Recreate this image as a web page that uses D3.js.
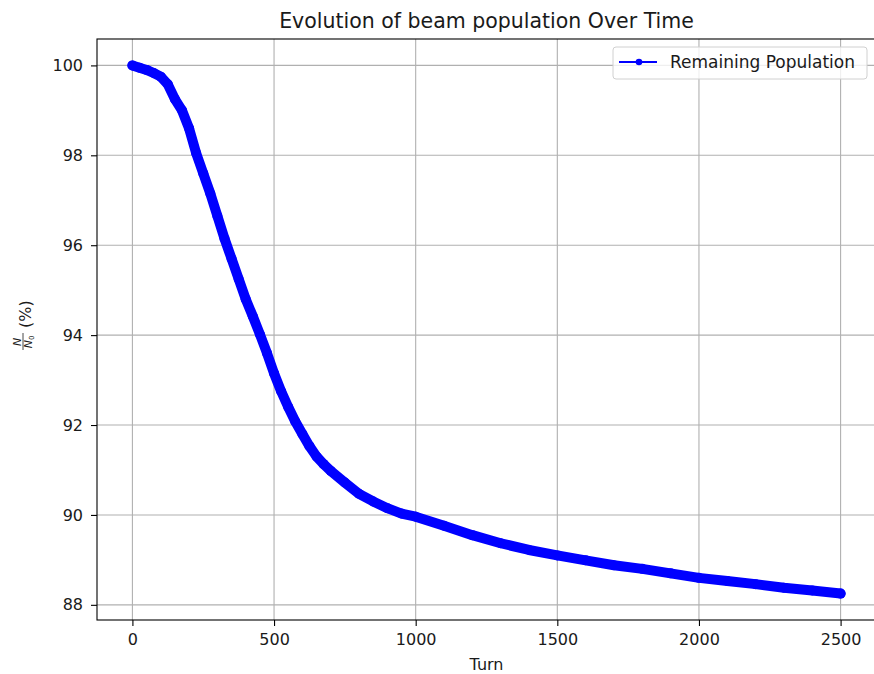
<!DOCTYPE html>
<html>
<head>
<meta charset="utf-8">
<script src="https://cdn.jsdelivr.net/npm/d3@7"></script>
<style>
  body { margin: 0; background: #fff; }
  svg { display: block; font-family: "DejaVu Sans", sans-serif; }
</style>
</head>
<body>
<script>
var width = 874;
var height = 674;

// 周回数と残存率(%)
var turns = [0, 25, 50, 75, 100, 125, 150, 175, 200, 225, 250, 275, 300, 325, 350, 375, 400,
  425, 450, 475, 500, 525, 550, 575, 600, 625, 650, 675, 700, 750, 800, 850, 900, 950, 1000,
  1100, 1200, 1300, 1400, 1500, 1600, 1700, 1800, 1900, 2000, 2100, 2200, 2300, 2400, 2500];
var population = [100, 99.95, 99.9, 99.83, 99.75, 99.58, 99.25, 99.0, 98.6, 98.05, 97.6, 97.15, 96.65, 96.15, 95.7, 95.25, 94.8,
  94.42, 94.02, 93.6, 93.15, 92.75, 92.4, 92.08, 91.8, 91.53, 91.3, 91.13, 90.98, 90.72, 90.47, 90.3, 90.15, 90.03, 89.96,
  89.76, 89.55, 89.37, 89.22, 89.1, 88.99, 88.88, 88.8, 88.7, 88.6, 88.53, 88.46, 88.38, 88.32, 88.25];
var xTicks = [0, 500, 1000, 1500, 2000, 2500];
var yTicks = [88, 90, 92, 94, 96, 98, 100];

var data = turns.map(function (t, i) { return { t: t, v: population[i] }; });

// 描画領域
var plot = { left: 97, right: 876, top: 39, bottom: 620 };

var svg = d3.select("body").append("svg")
  .attr("width", width)
  .attr("height", height);

// 5%マージン付きのスケール
var xExt = d3.extent(turns), yExt = d3.extent(population);
var xPad = (xExt[1] - xExt[0]) * 0.05, yPad = (yExt[1] - yExt[0]) * 0.05;
var x = d3.scaleLinear().domain([xExt[0] - xPad, xExt[1] + xPad]).range([plot.left, plot.right]);
var y = d3.scaleLinear().domain([yExt[0] - yPad, yExt[1] + yPad]).range([plot.bottom, plot.top]);

// グリッド
var grid = svg.append("g");
grid.selectAll(".gx").data(xTicks).enter().append("line")
  .attr("x1", function (d) { return x(d); }).attr("x2", function (d) { return x(d); })
  .attr("y1", plot.top).attr("y2", plot.bottom)
  .attr("stroke", "#b0b0b0").attr("stroke-width", 1.1);
grid.selectAll(".gy").data(yTicks).enter().append("line")
  .attr("y1", function (d) { return y(d); }).attr("y2", function (d) { return y(d); })
  .attr("x1", plot.left).attr("x2", plot.right)
  .attr("stroke", "#b0b0b0").attr("stroke-width", 1.1);

// 曲線（マーカーが重なった太い帯）
var line = d3.line().x(function (d) { return x(d.t); }).y(function (d) { return y(d.v); });
svg.append("path").datum(data)
  .attr("d", line)
  .attr("fill", "none")
  .attr("stroke", "#0000ff")
  .attr("stroke-width", 10)
  .attr("stroke-linejoin", "round")
  .attr("stroke-linecap", "round");
svg.selectAll(".dot").data(data).enter().append("circle")
  .attr("cx", function (d) { return x(d.t); })
  .attr("cy", function (d) { return y(d.v); })
  .attr("r", 5)
  .attr("fill", "#0000ff");

// 軸
var xAxis = svg.append("g").attr("transform", "translate(0," + plot.bottom + ")")
  .call(d3.axisBottom(x).tickValues(xTicks).tickSize(6).tickPadding(8).tickFormat(d3.format("d")));
var yAxis = svg.append("g").attr("transform", "translate(" + plot.left + ",0)")
  .call(d3.axisLeft(y).tickValues(yTicks).tickSize(6).tickPadding(8).tickFormat(d3.format("d")));
[xAxis, yAxis].forEach(function (a) {
  a.select(".domain").remove();
  a.selectAll(".tick line").attr("stroke", "#000").attr("stroke-width", 1.1);
  a.selectAll(".tick text").attr("font-size", 16).attr("fill", "#1a1a1a")
    .attr("font-family", "DejaVu Sans");
});

// 枠線
svg.append("rect")
  .attr("x", plot.left).attr("y", plot.top)
  .attr("width", plot.right - plot.left).attr("height", plot.bottom - plot.top)
  .attr("fill", "none").attr("stroke", "#000").attr("stroke-width", 1.1);

// タイトルと軸ラベル
var cx = (plot.left + plot.right) / 2;
svg.append("text").attr("x", cx).attr("y", 28)
  .attr("text-anchor", "middle").attr("font-size", 20.5).attr("fill", "#1a1a1a")
  .text("Evolution of beam population Over Time");
svg.append("text").attr("x", cx).attr("y", 670)
  .attr("text-anchor", "middle").attr("font-size", 16).attr("fill", "#1a1a1a")
  .text("Turn");

// 縦軸ラベル N/N0 (%)
var yl = svg.append("g").attr("transform", "translate(23,330) rotate(-90)")
  .attr("fill", "#1a1a1a");
yl.append("text").attr("x", -12).attr("y", -2).attr("text-anchor", "middle")
  .attr("font-size", 11).attr("font-style", "italic").text("N");
yl.append("line").attr("x1", -20).attr("x2", -3).attr("y1", 0).attr("y2", 0)
  .attr("stroke", "#1a1a1a").attr("stroke-width", 0.8);
var n0 = yl.append("text").attr("x", -12).attr("y", 9).attr("text-anchor", "middle")
  .attr("font-size", 11);
n0.append("tspan").attr("font-style", "italic").text("N");
n0.append("tspan").attr("font-size", 7).attr("dy", 2).text("0");
yl.append("text").attr("x", 2).attr("y", 8).attr("font-size", 16).text("(%)");

// 凡例
var lg = svg.append("g").attr("transform", "translate(613,47)");
lg.append("rect").attr("width", 254).attr("height", 32).attr("rx", 3)
  .attr("fill", "#fff").attr("fill-opacity", 0.8)
  .attr("stroke", "#d0d0d0").attr("stroke-width", 1);
lg.append("line").attr("x1", 6).attr("x2", 44).attr("y1", 15).attr("y2", 15)
  .attr("stroke", "#0000ff").attr("stroke-width", 2);
lg.append("circle").attr("cx", 26).attr("cy", 15).attr("r", 3.3).attr("fill", "#0000ff");
lg.append("text").attr("x", 57).attr("y", 21).attr("font-size", 17).attr("fill", "#1a1a1a")
  .text("Remaining Population");
</script>
</body>
</html>
